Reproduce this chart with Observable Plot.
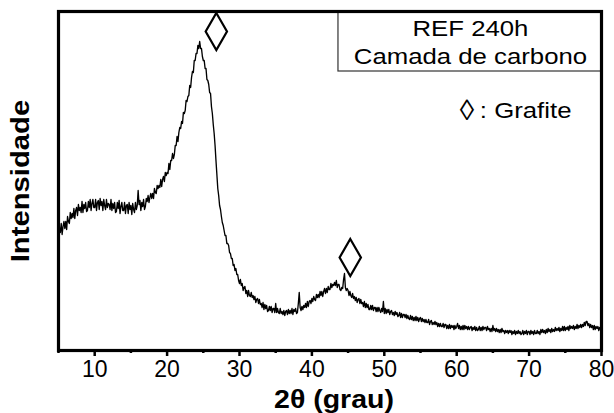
<!DOCTYPE html>
<html>
<head>
<meta charset="utf-8">
<script src="https://cdn.jsdelivr.net/npm/d3@7"></script>
<script src="https://cdn.jsdelivr.net/npm/@observablehq/plot@0.6"></script>
<style>
  html, body { margin: 0; padding: 0; background: #fff; }
</style>
</head>
<body>
<div id="chart"></div>
<script>
// XRD scan: 2θ from 5° to 80°, one reading every 0.125° (8 per degree, one row per degree)
const scanStart = 5;
const scanStep = 0.125;
const intensity = [
  113,123,118,127,116,124,129,122, // 5
  129,121,134,129,127,138,132,137, // 6
  133,142,132,140,143,135,146,140, // 7
  143,138,149,138,146,142,148,139, // 8
  140,149,143,151,140,147,151,143, // 9
  143,151,140,148,150,141,152,145, // 10
  149,140,151,145,141,151,143,147, // 11
  146,141,151,140,147,142,148,138, // 12
  139,148,142,150,137,144,148,140, // 13
  140,148,137,145,146,137,148,141, // 14
  145,136,147,141,138,148,141,145, // 15
  160,146,150,140,148,144,151,141, // 16
  144,152,149,155,148,153,157,152, // 17
  157,152,162,158,157,165,162,165, // 18
  163,171,164,171,174,169,178,175, // 19
  178,177,187,181,190,190,197,192, // 20
  196,205,205,214,209,218,223,222, // 21
  229,227,238,237,240,250,249,254, // 22
  255,265,263,273,279,278,290,290, // 23
  297,297,305,302,309,302,302,294, // 24
  290,290,282,282,271,270,266,258, // 25
  257,244,237,226,217,205,190,176, // 26
  162,155,145,141,134,128,125,120, // 27
  115,115,107,107,105,98,97,92,    // 28
  92,85,86,80,82,76,76,70,         // 29
  67,71,65,67,60,63,64,57,         // 30
  60,54,60,55,54,58,53,55,         // 31
  51,54,48,51,52,47,51,46,         // 32
  47,43,48,41,46,42,45,39,         // 33
  40,44,40,44,38,42,42,38,         // 34
  47,38,42,38,37,42,37,39,         // 35
  36,40,35,39,40,36,41,37,         // 36
  40,37,42,36,41,39,42,37,         // 37
  38,47,58,43,40,44,41,45,         // 38
  43,47,43,49,44,49,50,47,         // 39
  52,49,54,51,50,56,53,56,         // 40
  53,59,55,59,54,59,62,57,         // 41
  62,58,64,61,61,67,63,66,         // 42
  65,68,65,70,63,66,66,61,         // 43
  60,63,62,71,77,63,60,62,         // 44
  60,55,59,55,53,57,52,54,         // 45
  50,53,48,51,52,47,51,47,         // 46
  48,44,49,43,47,43,46,41,         // 47
  41,45,41,45,40,43,43,39,         // 48
  43,39,43,40,38,42,39,49,         // 49
  37,42,37,41,38,41,36,39,         // 50
  40,36,38,35,39,36,38,34,         // 51
  35,38,33,37,33,36,36,33,         // 52
  36,32,35,32,31,35,31,34,         // 53
  30,33,30,34,30,33,29,32,         // 54
  33,29,32,29,31,28,31,28,         // 55
  28,31,26,29,30,26,28,26,         // 56
  29,26,28,24,27,24,27,24,         // 57
  24,27,23,26,26,22,25,22,         // 58
  26,22,25,23,25,21,25,22,         // 59
  24,27,22,25,21,24,21,25,         // 60
  21,25,22,24,21,24,21,23,         // 61
  24,20,23,21,24,20,23,20,         // 62
  21,24,20,23,20,24,21,23,         // 63
  23,20,24,21,22,19,22,19,         // 64
  25,20,22,19,22,19,21,18,         // 65
  21,18,22,19,20,17,20,18,         // 66
  20,17,20,18,20,16,19,17,         // 67
  20,16,19,17,20,17,19,16,         // 68
  17,20,16,19,17,20,16,19,         // 69
  19,16,20,17,19,16,20,17,         // 70
  17,20,17,19,16,21,18,21,         // 71
  18,20,17,21,18,22,19,21,         // 72
  18,22,19,21,19,23,20,22,         // 73
  20,23,19,22,20,24,20,24,         // 74
  20,23,21,24,20,25,22,24,         // 75
  22,25,21,24,22,26,22,25,         // 76
  23,26,23,26,24,28,25,29,         // 77
  29,25,27,23,26,23,25,21,         // 78
  25,21,24,22,24,20,23,21,         // 79
  23                               // 80
];
const twoTheta = intensity.map((_, i) => scanStart + i * scanStep);

const majorTicks = [10, 20, 30, 40, 50, 60, 70, 80];
const minorTicks = [5, 15, 25, 35, 45, 55, 65, 75];

// graphite reflections marked with ◊
const graphiteMarkers = [
  {x: 26.8, y: 319},
  {x: 45.3, y: 93}
];

const legendLines = ["REF 240h", "Camada de carbono"];
const legendLineY = [322, 294];
const legendCenterX = 61.9;
const legendBox = [{x1: 43.67, x2: 80, y1: 279, y2: 339}];
const noteSymbol = [{text: "◊", x: 61.42, y: 240}];
const noteLabel = [{text: ": Grafite", x: 63.2, y: 240}];

const xTitle = "2θ (grau)";
const yTitle = "Intensidade";

const scan = twoTheta.map((x, i) => ({x, y: intensity[i]}));
const legendRows = legendLines.map((t, i) => ({text: t, x: legendCenterX, y: legendLineY[i]}));

const font = "'Liberation Sans', Arial, Helvetica, sans-serif";

const plot = Plot.plot({
  width: 614,
  height: 413,
  marginLeft: 58,
  marginRight: 13,
  marginTop: 11,
  marginBottom: 63,
  style: {fontFamily: font, background: "white", color: "black"},
  x: {domain: [5, 80], axis: null},
  y: {domain: [0, 339], axis: null},
  marks: [
    Plot.line(scan, {x: "x", y: "y", stroke: "black", strokeWidth: 1.35}),
    Plot.rect(legendBox, {x1: "x1", x2: "x2", y1: "y1", y2: "y2", fill: "white", stroke: "#333", strokeWidth: 1.2}),
    Plot.text(legendRows, {x: "x", y: "y", text: "text", fontSize: 22, fill: "black", className: "lg-text"}),
    Plot.text(noteSymbol, {x: "x", y: "y", text: "text", fontSize: 29, fill: "black"}),
    Plot.text(noteLabel, {x: "x", y: "y", text: "text", textAnchor: "start", fontSize: 22, fill: "black", className: "note-text"}),
    Plot.dot(graphiteMarkers, {x: "x", y: "y", symbol: "diamond", r: 11.2, stroke: "black", strokeWidth: 2.2, fill: "none"}),
    Plot.axisX({ticks: majorTicks, anchor: "bottom", tickSize: 6, tickPadding: 4, strokeWidth: 2.5, fontSize: 23, label: null, fill: "black"}),
    Plot.axisX({ticks: minorTicks, anchor: "bottom", tickSize: 3, strokeWidth: 2.5, tickFormat: () => "", label: null}),
    Plot.text([xTitle], {frameAnchor: "bottom", text: d => d, lineAnchor: "bottom", dy: 57, dx: 4, fontSize: 25, fontWeight: "bold", fill: "black", className: "xt-text"}),
    Plot.text([yTitle], {frameAnchor: "left", text: d => d, rotate: -90, textAnchor: "middle", lineAnchor: "middle", dx: -38, fontSize: 25, fontWeight: "bold", fill: "black", className: "yt-text"}),
    Plot.frame({stroke: "black", strokeWidth: 3.2})
  ]
});

document.getElementById("chart").append(plot);

// the reference lettering is a little wider than Liberation Sans: widen glyphs to match
function stretch(cls, k) {
  plot.querySelectorAll(`.${cls} text, text.${cls}`).forEach(t => {
    const L = t.getComputedTextLength();
    if (L > 0) {
      t.setAttribute("textLength", (L * k).toFixed(1));
      t.setAttribute("lengthAdjust", "spacingAndGlyphs");
    }
  });
}
stretch("lg-text", 1.17);
stretch("note-text", 1.17);
stretch("xt-text", 1.14);
stretch("yt-text", 1.17);
</script>
</body>
</html>
